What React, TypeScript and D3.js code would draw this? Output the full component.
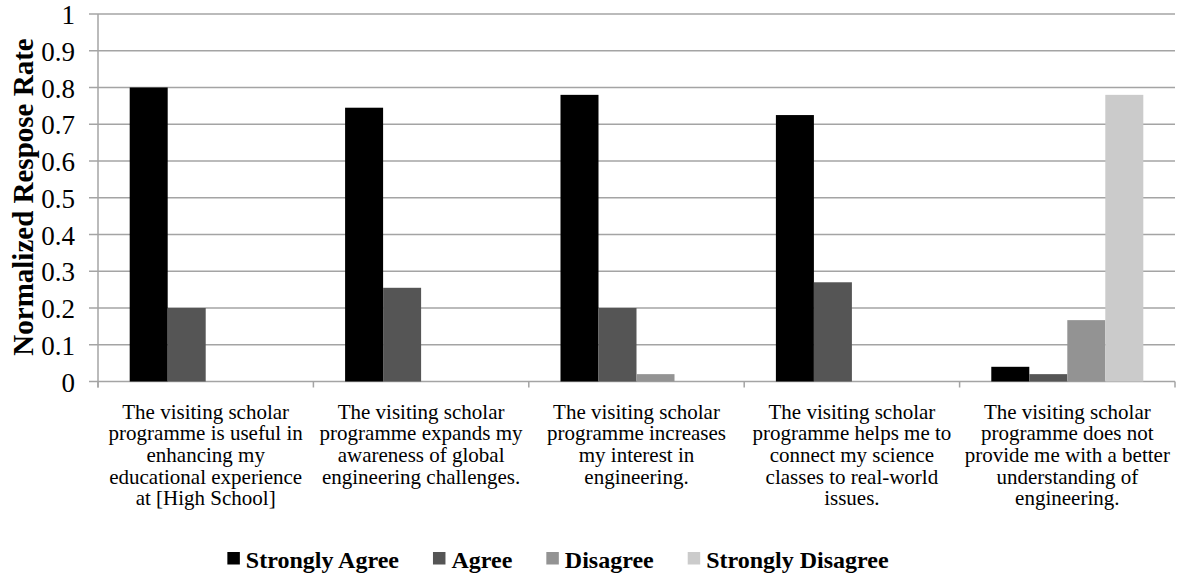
import React, { useEffect, useRef } from "react";
import * as d3 from "d3";

const categories: string[][] = [
  ["The visiting scholar", "programme is useful in", "enhancing my", "educational experience", "at [High School]"],
  ["The visiting scholar", "programme expands my", "awareness of global", "engineering challenges."],
  ["The visiting scholar", "programme increases", "my interest in", "engineering."],
  ["The visiting scholar", "programme helps me to", "connect my science", "classes to real-world", "issues."],
  ["The visiting scholar", "programme does not", "provide me with a better", "understanding of", "engineering."],
];
const seriesNames = ["Strongly Agree", "Agree", "Disagree", "Strongly Disagree"];
const seriesColors = ["#000000", "#555555", "#939393", "#cbcbcb"];
const stronglyAgree = [0.8, 0.745, 0.78, 0.725, 0.04];
const agree = [0.2, 0.255, 0.2, 0.27, 0.02];
const disagree = [0, 0, 0.02, 0, 0.167];
const stronglyDisagree = [0, 0, 0, 0, 0.78];
const yTicks = [0, 0.1, 0.2, 0.3, 0.4, 0.5, 0.6, 0.7, 0.8, 0.9, 1];
const yTitle = "Normalized Respose Rate";

const W = 1178;
const H = 577;
const FONT = "'Liberation Serif', 'Times New Roman', serif";

export default function App() {
  const ref = useRef<SVGSVGElement>(null);
  useEffect(() => {
    const svg = d3.select(ref.current);
    svg.selectAll("*").remove();
    const left = 98, right = 1175, top = 14, bottom = 381.5;
    const x = d3.scaleBand<number>().domain(d3.range(categories.length)).range([left, right]).padding(0);
    const xs = d3.scaleBand<number>().domain(d3.range(seriesNames.length)).range([0, x.bandwidth()]).paddingInner(0).paddingOuter(0.834);
    const y = d3.scaleLinear().domain([0, 1]).range([bottom, top]);
    const grid = "#a4a4a4";

    // gridlines
    svg.append("g").selectAll("line").data(yTicks).join("line")
      .attr("x1", left - 9).attr("x2", right)
      .attr("y1", (d) => y(d)).attr("y2", (d) => y(d))
      .attr("stroke", grid).attr("stroke-width", 1.5);
    // y axis line
    svg.append("line").attr("x1", left).attr("x2", left).attr("y1", top).attr("y2", bottom + 6)
      .attr("stroke", grid).attr("stroke-width", 1.5);
    // category ticks
    svg.append("g").selectAll("line").data(d3.range(categories.length + 1)).join("line")
      .attr("x1", (i) => left + i * x.step()).attr("x2", (i) => left + i * x.step())
      .attr("y1", bottom).attr("y2", bottom + 6)
      .attr("stroke", grid).attr("stroke-width", 1.5);

    const series = [stronglyAgree, agree, disagree, stronglyDisagree];
    series.forEach((vals, si) => {
      svg.append("g").selectAll("rect").data(vals).join("rect")
        .attr("x", (_, i) => (x(i) as number) + (xs(si) as number))
        .attr("width", xs.bandwidth())
        .attr("y", (d) => y(d))
        .attr("height", (d) => y(0) - y(d))
        .attr("fill", seriesColors[si]);
    });

    // y tick labels
    svg.append("g").selectAll("text").data(yTicks).join("text")
      .attr("x", 75).attr("y", (d) => y(d) + 10)
      .attr("text-anchor", "end")
      .attr("font-family", FONT).attr("font-size", 27).attr("fill", "#000")
      .text((d) => String(d));

    // y title
    svg.append("text")
      .attr("transform", `translate(33,197) rotate(-90)`)
      .attr("text-anchor", "middle")
      .attr("font-family", FONT).attr("font-size", 29).attr("font-weight", "bold")
      .text(yTitle);

    // category labels
    categories.forEach((lines, i) => {
      const cx = (x(i) as number) + x.bandwidth() / 2;
      const t = svg.append("text").attr("text-anchor", "middle")
        .attr("font-family", FONT).attr("font-size", 21).attr("fill", "#000");
      lines.forEach((ln, j) => {
        t.append("tspan").attr("x", cx).attr("y", 418.5 + j * 21.7).text(ln);
      });
    });

    // legend
    const lg = svg.append("g");
    const sq = 12.5, gapText = 6, gapItem = 34;
    let cur = 0;
    seriesNames.forEach((name, i) => {
      const g = lg.append("g");
      g.append("rect").attr("x", 0).attr("y", -16).attr("width", sq).attr("height", sq).attr("fill", seriesColors[i]);
      const tx = g.append("text").attr("x", sq + gapText).attr("y", 0)
        .attr("font-family", FONT).attr("font-size", 24).attr("font-weight", "bold").text(name);
      const w = sq + gapText + (tx.node() as SVGTextElement).getComputedTextLength();
      g.attr("transform", `translate(${cur},0)`);
      cur += w + gapItem;
    });
    const total = cur - gapItem;
    lg.attr("transform", `translate(${558 - total / 2},568)`);
  }, []);
  return (
    <svg ref={ref} width={W} height={H} style={{ position: "absolute", left: 0, top: 0, background: "#fff" }} />
  );
}
